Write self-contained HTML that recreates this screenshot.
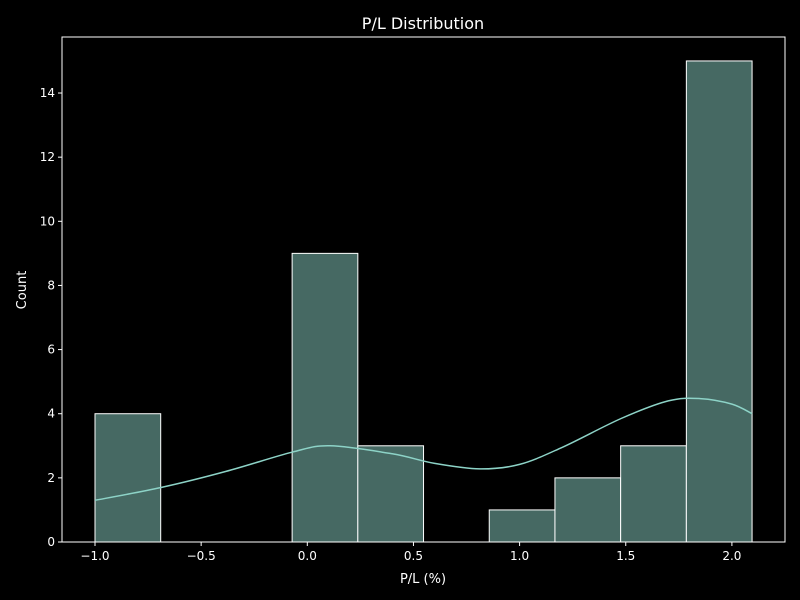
<!DOCTYPE html>
<html><head><meta charset="utf-8"><style>
body{margin:0;background:#000;}
svg{display:block;font-family:"DejaVu Sans","Liberation Sans",sans-serif;}
</style></head><body>
<svg id="chart" width="800" height="600">
<rect width="800" height="600" fill="#000"/>
<text x="423" y="29" fill="#fff" font-size="16" text-anchor="middle">P/L Distribution</text>
<text x="423" y="583" fill="#fff" font-size="13" text-anchor="middle">P/L (%)</text>
<text x="26" y="290" fill="#fff" font-size="13" text-anchor="middle" transform="rotate(-90 26 290)">Count</text>
<g id="plot"></g>
</svg>
<script>
const binCounts=[4,0,0,9,3,0,1,2,3,15];
const binMin=-1.0, binMax=2.095;
const kdeX=[-1.0,-0.689,-0.383,-0.072,0.107,0.4,0.6,0.813,1.0,1.2,1.478,1.7,1.85,2.0,2.095];
const kdeY=[1.3,1.7,2.2,2.8,3.0,2.75,2.45,2.28,2.42,2.95,3.85,4.4,4.47,4.3,4.0];
const xTicks=[-1.0,-0.5,0.0,0.5,1.0,1.5,2.0];
const xTickLabels=["−1.0","−0.5","0.0","0.5","1.0","1.5","2.0"];
const yTicks=[0,2,4,6,8,10,12,14];

const L=62,R=785,T=37,B=542;
const sx=v=>95+(v+1)*212.3;
const sy=v=>542-v*32.07;
const g=document.getElementById('plot');
const NS='http://www.w3.org/2000/svg';
function mk(t,a){const e=document.createElementNS(NS,t);for(const k in a)e.setAttribute(k,a[k]);g.appendChild(e);return e;}
const w=(binMax-binMin)/binCounts.length;
binCounts.forEach((c,i)=>{
  if(c<=0)return;
  const x0=sx(binMin+i*w),x1=sx(binMin+(i+1)*w);
  const r=mk('rect',{x:x0,y:sy(c),width:x1-x0,height:sy(0)-sy(c),fill:'#466963',stroke:'#fff','stroke-width':1});
  
  
});
const P=kdeX.map((x,i)=>[sx(x),sy(kdeY[i])]);
let d='M'+P[0][0].toFixed(1)+','+P[0][1].toFixed(1);
for(let i=0;i<P.length-1;i++){
  const p0=P[Math.max(i-1,0)],p1=P[i],p2=P[i+1],p3=P[Math.min(i+2,P.length-1)];
  const c1=[p1[0]+(p2[0]-p0[0])/6,p1[1]+(p2[1]-p0[1])/6];
  const c2=[p2[0]-(p3[0]-p1[0])/6,p2[1]-(p3[1]-p1[1])/6];
  d+=' C'+c1.map(v=>v.toFixed(1))+' '+c2.map(v=>v.toFixed(1))+' '+p2.map(v=>v.toFixed(1));
}
const p=mk('path',{d:d,fill:'none',stroke:'#8dd3c7','stroke-width':1.5,'stroke-linejoin':'round'});


const fr=mk('rect',{x:L,y:T,width:R-L,height:B-T,fill:'none',stroke:'#fff','stroke-width':1});


xTicks.forEach((v,i)=>{
  const x=sx(v);
  const l=mk('line',{x1:x,x2:x,y1:B,y2:B+4,stroke:'#fff'});
  
  
  const t=mk('text',{x:x,y:B+18,fill:'#fff','font-size':12,'text-anchor':'middle'});
  t.textContent=xTickLabels[i];
  
  
});
yTicks.forEach(v=>{
  const y=sy(v);
  const l=mk('line',{x1:L-4,x2:L,y1:y,y2:y,stroke:'#fff'});
  
  
  const t=mk('text',{x:L-7,y:y+4,fill:'#fff','font-size':12,'text-anchor':'end'});
  t.textContent=v;
  
  
});
</script>
</body></html>
